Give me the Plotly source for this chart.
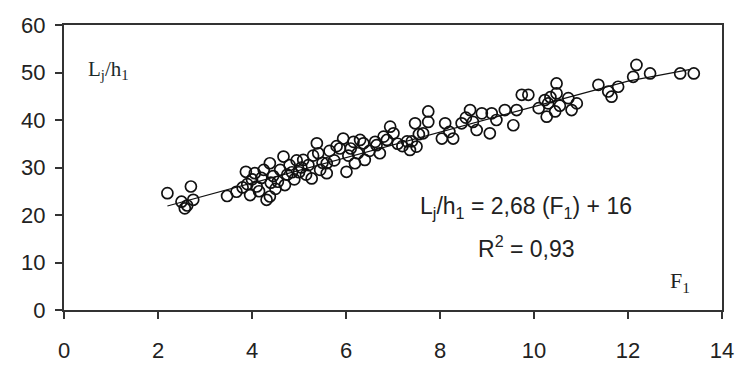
import plotly.graph_objects as go

# Observed data (F1, Lj/h1)
f1 = [2.20, 2.50, 2.57, 2.62, 2.70, 2.75,
      3.47, 3.67, 3.80, 3.87, 3.90, 3.96, 4.00, 4.06, 4.10, 4.15, 4.20, 4.25, 4.31,
      4.38, 4.38, 4.40, 4.45, 4.50, 4.55, 4.60, 4.67, 4.70, 4.75, 4.80, 4.85, 4.90,
      4.95, 5.00, 5.05, 5.09, 5.15, 5.20, 5.27, 5.30, 5.38, 5.41, 5.45, 5.50, 5.59,
      5.59, 5.65, 5.75, 5.80, 5.87, 5.94, 6.01, 6.05, 6.10, 6.16, 6.19, 6.25, 6.30,
      6.37, 6.40, 6.50, 6.62, 6.65, 6.72, 6.80, 6.87, 6.94, 7.01, 7.10, 7.20, 7.30,
      7.36, 7.40, 7.47, 7.50, 7.55, 7.64, 7.75, 7.75, 8.04, 8.11, 8.20, 8.28, 8.46,
      8.55, 8.64, 8.70, 8.78, 8.89, 9.06, 9.10, 9.20, 9.38, 9.56, 9.63, 9.74, 9.88,
      10.10, 10.23, 10.27, 10.30, 10.35, 10.45, 10.48, 10.48, 10.55, 10.73, 10.80,
      10.91, 11.37, 11.58, 11.65, 11.79, 12.11, 12.18, 12.47, 13.11, 13.40]
ljh1 = [24.6, 22.8, 21.4, 22.0, 26.0, 23.2,
        24.0, 24.9, 25.8, 29.1, 26.5, 24.2, 27.5, 28.8, 26.0, 25.0, 27.8, 29.5, 23.2,
        30.9, 23.9, 26.8, 28.2, 25.5, 27.0, 29.5, 32.3, 26.3, 28.5, 30.5, 29.0, 27.5,
        31.5, 29.0, 30.0, 31.6, 28.5, 30.5, 27.7, 32.5, 35.1, 33.0, 29.5, 31.0, 30.9,
        28.8, 33.5, 31.5, 34.5, 34.0, 36.1, 29.1, 32.5, 34.0, 35.4, 30.9, 33.0, 35.8,
        35.1, 31.6, 33.5, 35.4, 34.7, 33.0, 36.5, 35.8, 38.6, 37.2, 35.0, 34.5, 35.5,
        33.7, 35.5, 39.3, 34.4, 37.0, 37.2, 41.8, 39.6, 36.1, 39.3, 37.5, 36.1, 39.3,
        40.5, 42.1, 39.6, 37.9, 41.4, 37.2, 41.4, 40.0, 42.1, 38.9, 42.1, 45.3, 45.3,
        42.5, 44.2, 40.7, 43.5, 44.8, 41.8, 47.7, 45.6, 43.0, 44.6, 42.1,
        43.5, 47.4, 46.0, 44.9, 47.0, 49.1, 51.6, 49.8, 49.8, 49.8]

# Fitted line as drawn
fit_x = [2.2, 4, 6, 8, 10, 12, 13.3]
fit_y = [21.9, 26.7, 32.1, 37.4, 42.8, 48.2, 50.6]

x_ticks = [0, 2, 4, 6, 8, 10, 12, 14]
y_ticks = [0, 10, 20, 30, 40, 50, 60]

fig = go.Figure()
fig.add_trace(go.Scatter(x=f1, y=ljh1, mode="markers",
                         marker=dict(symbol="circle-open", size=11,
                                     color="#111", line=dict(width=1.7)),
                         showlegend=False, hoverinfo="skip"))
fig.add_trace(go.Scatter(x=fit_x, y=fit_y, mode="lines",
                         line=dict(color="#111", width=1.2),
                         showlegend=False, hoverinfo="skip"))

sans = "Liberation Sans, Arial, sans-serif"
serif = "Liberation Serif, Times New Roman, serif"

fig.add_annotation(x=0.47, y=50.5, xanchor="left", yanchor="middle",
                   text="L<sub>j</sub>/h<sub>1</sub>", showarrow=False,
                   font=dict(family=serif, size=21, color="#1a2a2a"))
fig.add_annotation(x=9.84, y=21.6, xanchor="center", yanchor="middle",
                   text="L<sub>j</sub>/h<sub>1</sub> = 2,68 (F<sub>1</sub>) + 16",
                   showarrow=False, font=dict(family=sans, size=23, color="#222"))
fig.add_annotation(x=9.85, y=13.3, xanchor="center", yanchor="middle",
                   text="R<sup>2</sup> = 0,93", showarrow=False,
                   font=dict(family=sans, size=23, color="#222"))
fig.add_annotation(x=13.1, y=5.8, xanchor="center", yanchor="middle",
                   text="F<sub>1</sub>", showarrow=False,
                   font=dict(family=serif, size=22, color="#222"))

axis_common = dict(showgrid=False, zeroline=False, showline=True, linecolor="#333",
                   linewidth=2, mirror=True, ticks="outside", ticklen=7,
                   tickwidth=2, tickcolor="#333", automargin=False,
                   tickfont=dict(family=sans, size=22, color="#222"))
fig.update_xaxes(range=[0, 14], tickvals=x_ticks, ticktext=[str(v) for v in x_ticks],
                 ticklabelstandoff=13, **axis_common)
fig.update_yaxes(range=[0, 60], tickvals=y_ticks, ticktext=[str(v) for v in y_ticks],
                 ticklabelstandoff=5, **axis_common)

fig.update_layout(width=743, height=365, margin=dict(l=64, r=21, t=25, b=55),
                  plot_bgcolor="white", paper_bgcolor="white")

fig.write_html("out.html")
